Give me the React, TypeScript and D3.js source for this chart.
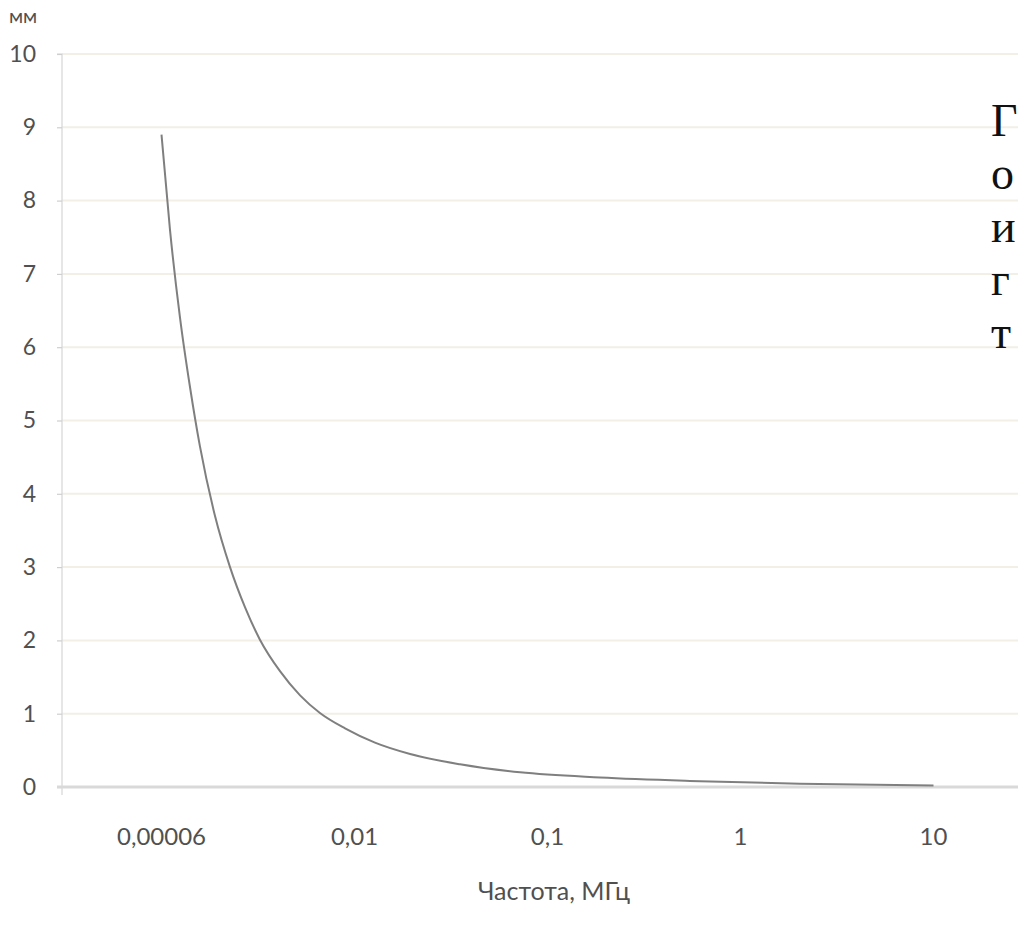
import React, { useEffect, useRef } from "react";
import * as d3 from "d3";

// --- chart data ---
const categories = ["0,00006", "0,01", "0,1", "1", "10"];
const yTicks = [0, 1, 2, 3, 4, 5, 6, 7, 8, 9, 10];
// position along the category axis (0 = first label, 4 = last label)
const curvePos = [0, 0.044, 0.096, 0.148, 0.199, 0.277, 0.355, 0.433, 0.510, 0.614, 0.718, 0.821, 0.951, 1.106, 1.288, 1.547, 1.858, 2.272, 2.790, 3.308, 4.0];
const curveDepth = [8.9, 7.6, 6.4, 5.45, 4.65, 3.7, 3.0, 2.45, 2.01, 1.58, 1.25, 1.01, 0.8, 0.605, 0.45, 0.31, 0.2, 0.13, 0.08, 0.045, 0.02];
const sideLetters = ["Г", "о", "и", "г", "т"];

const yLabel = "мм";
const xTitle = "Частота, МГц";

const width = 1018;
const height = 932;

export default function App() {
    const svgRef = useRef<SVGSVGElement>(null);

    useEffect(() => {
        const svg = d3.select(svgRef.current);
        svg.selectAll("*").remove();
        svg.style("background-color", "#fff");

        const left = 62;
        const font = "Lato, 'Open Sans', sans-serif";

        const x = d3.scaleBand().domain(categories).range([65, 1030]).padding(0);
        const xCenter = (c: string) => (x(c) as number) + x.bandwidth() / 2;
        const xPos = d3.scaleLinear()
            .domain([0, categories.length - 1])
            .range([xCenter(categories[0]), xCenter(categories[categories.length - 1])]);
        const y = d3.scaleLinear().domain([0, 10]).range([787, 54]);

        // --- gridlines ---
        svg.append("g")
            .selectAll("line")
            .data(yTicks.filter(d => d > 0))
            .join("line")
            .attr("x1", left)
            .attr("x2", width)
            .attr("y1", d => y(d))
            .attr("y2", d => y(d))
            .attr("stroke", "#f1efe6")
            .attr("stroke-width", 2);

        // --- y axis ---
        const yAxis = svg.append("g")
            .attr("transform", `translate(${left},0)`)
            .call(d3.axisLeft(y).tickValues(yTicks).tickSize(5).tickPadding(21).tickFormat(d3.format("d")));
        yAxis.select(".domain").attr("stroke", "#d6d6d6").attr("stroke-width", 1.2);
        yAxis.selectAll(".tick line").attr("stroke", "#cfcfcf").attr("stroke-width", 1.2);
        yAxis.selectAll(".tick text")
            .attr("fill", "#505050")
            .style("font-family", font)
            .style("font-size", "23px");
        yAxis.select(".domain").attr("d", `M-5,${y(10)}H0V${y(0) + 8}`);

        // --- x axis line ---
        svg.append("line")
            .attr("x1", left - 5)
            .attr("x2", width)
            .attr("y1", y(0))
            .attr("y2", y(0))
            .attr("stroke", "#d9d9d9")
            .attr("stroke-width", 3);

        // --- x labels ---
        svg.append("g")
            .selectAll("text")
            .data(categories)
            .join("text")
            .attr("x", d => xCenter(d))
            .attr("y", 845)
            .attr("text-anchor", "middle")
            .attr("fill", "#505050")
            .style("font-family", font)
            .style("font-size", "24px")
            .text(d => d);

        svg.append("text")
            .attr("x", 554)
            .attr("y", 900)
            .attr("text-anchor", "middle")
            .attr("fill", "#505050")
            .style("font-family", font)
            .style("font-size", "25px")
            .text(xTitle);

        svg.append("text")
            .attr("x", 9)
            .attr("y", 23)
            .attr("fill", "#505050")
            .style("font-family", font)
            .style("font-size", "20px")
            .text(yLabel);

        // --- curve ---
        const pts = curvePos.map((p, i) => [xPos(p), y(curveDepth[i])] as [number, number]);
        svg.append("path")
            .datum(pts)
            .attr("fill", "none")
            .attr("stroke", "#7f7f7f")
            .attr("stroke-width", 2)
            .attr("d", d3.line().curve(d3.curveMonotoneX));

        // --- text on the right edge ---
        svg.append("g")
            .selectAll("text")
            .data(sideLetters)
            .join("text")
            .attr("x", 991)
            .attr("y", (d, i) => 136 + i * 53)
            .attr("fill", "#111")
            .style("font-family", "'Liberation Serif', 'DejaVu Serif', serif")
            .style("font-size", "46px")
            .text(d => d);
    }, []);

    return (
        <svg
            ref={svgRef}
            width={width}
            height={height}
            style={{ position: "absolute", left: 0, top: 0 }}
        />
    );
}
